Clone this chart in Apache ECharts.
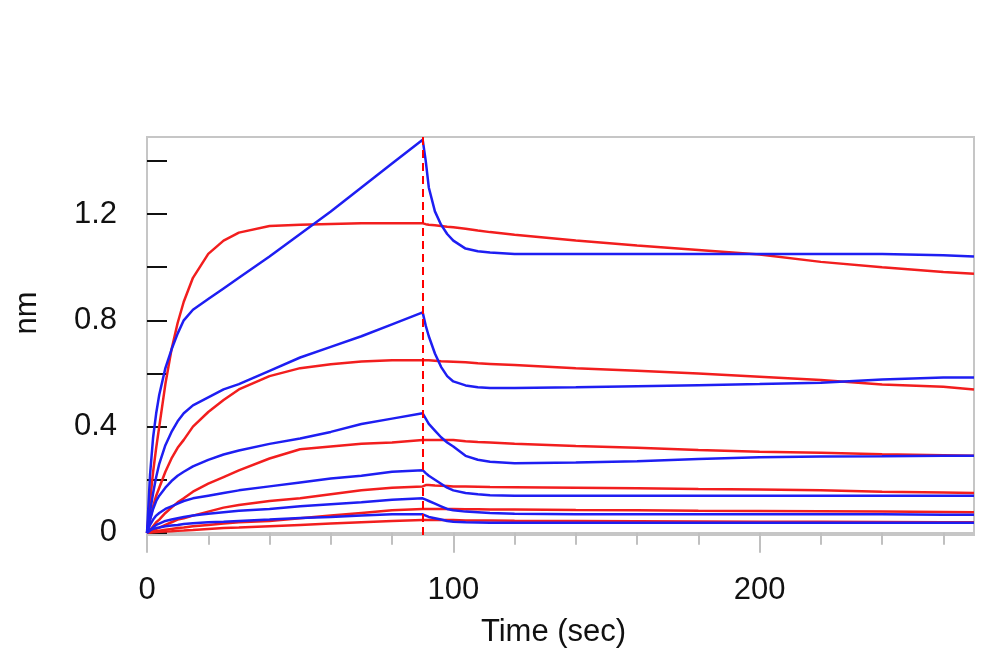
<!DOCTYPE html>
<html>
<head>
<meta charset="utf-8">
<script src="https://cdn.jsdelivr.net/npm/echarts@6/dist/echarts.min.js"></script>
<style>
  html, body { margin: 0; padding: 0; background: #fff; }
  #chart { width: 1000px; height: 670px; }
</style>
</head>
<body>
<div id="chart"></div>
<script>
// time points (sec), association 0-90 then dissociation 90-270
const time = [0, 1, 2, 3, 4, 6, 8, 10, 12, 15, 20, 25, 30, 40, 50, 60, 70, 80, 90,
  91, 92, 94, 96, 98, 100, 104, 108, 112, 120, 140, 160, 180, 200, 220, 240, 260, 270]
const switchTime = 90

// measured curves (blue)
const blue1 = [0, 0.22, 0.36, 0.45, 0.52, 0.62, 0.69, 0.75, 0.80, 0.84, 0.88, 0.92, 0.96, 1.04, 1.125, 1.21, 1.30, 1.39, 1.48,
  1.40, 1.30, 1.21, 1.16, 1.125, 1.10, 1.07, 1.06, 1.055, 1.05, 1.05, 1.05, 1.05, 1.05, 1.05, 1.05, 1.045, 1.04]
const blue2 = [0, 0.08, 0.15, 0.21, 0.26, 0.33, 0.38, 0.42, 0.45, 0.48, 0.51, 0.54, 0.56, 0.61, 0.66, 0.70, 0.74, 0.785, 0.83,
  0.78, 0.74, 0.675, 0.625, 0.59, 0.57, 0.555, 0.548, 0.545, 0.545, 0.548, 0.552, 0.556, 0.56, 0.565, 0.577, 0.585, 0.585]
const blue3 = [0, 0.05, 0.09, 0.12, 0.14, 0.17, 0.195, 0.215, 0.23, 0.25, 0.275, 0.295, 0.31, 0.335, 0.355, 0.38, 0.41, 0.43, 0.45,
  0.43, 0.41, 0.385, 0.36, 0.34, 0.325, 0.29, 0.275, 0.268, 0.262, 0.265, 0.27, 0.278, 0.285, 0.287, 0.288, 0.29, 0.29]
const blue4 = [0, 0.03, 0.05, 0.065, 0.075, 0.09, 0.1, 0.11, 0.12, 0.13, 0.14, 0.15, 0.16, 0.175, 0.19, 0.205, 0.215, 0.23, 0.236,
  0.225, 0.215, 0.2, 0.185, 0.17, 0.16, 0.15, 0.145, 0.142, 0.14, 0.14, 0.14, 0.14, 0.14, 0.14, 0.14, 0.14, 0.14]
const blue5 = [0, 0.01, 0.02, 0.03, 0.035, 0.045, 0.05, 0.055, 0.06, 0.065, 0.072, 0.078, 0.083, 0.09, 0.1, 0.108, 0.115, 0.125, 0.13,
  0.125, 0.12, 0.11, 0.1, 0.09, 0.085, 0.08, 0.078, 0.075, 0.072, 0.07, 0.07, 0.07, 0.07, 0.07, 0.07, 0.068, 0.068]
const blue6 = [0, 0.01, 0.015, 0.018, 0.02, 0.025, 0.028, 0.03, 0.033, 0.036, 0.04, 0.042, 0.045, 0.05, 0.056, 0.06, 0.065, 0.07, 0.07,
  0.065, 0.06, 0.055, 0.05, 0.045, 0.042, 0.04, 0.039, 0.038, 0.038, 0.038, 0.038, 0.038, 0.038, 0.038, 0.038, 0.038, 0.038]

// fitted curves (red)
const red1 = [0, 0.12, 0.23, 0.32, 0.40, 0.56, 0.69, 0.79, 0.87, 0.96, 1.05, 1.10, 1.13, 1.155, 1.16, 1.163, 1.165, 1.165, 1.165,
  1.162, 1.16, 1.158, 1.155, 1.152, 1.15, 1.145, 1.138, 1.132, 1.122, 1.10, 1.082, 1.065, 1.048, 1.02, 1.0, 0.982, 0.975]
const red2 = [0, 0.05, 0.10, 0.14, 0.17, 0.23, 0.28, 0.32, 0.35, 0.40, 0.455, 0.50, 0.54, 0.59, 0.62, 0.635, 0.645, 0.65, 0.65,
  0.65, 0.65, 0.648, 0.646, 0.645, 0.644, 0.642, 0.638, 0.636, 0.632, 0.62, 0.61, 0.6, 0.588, 0.575, 0.558, 0.55, 0.54]
const red3 = [0, 0.01, 0.025, 0.04, 0.05, 0.075, 0.095, 0.115, 0.13, 0.155, 0.185, 0.21, 0.235, 0.28, 0.315, 0.325, 0.335, 0.34, 0.35,
  0.35, 0.35, 0.35, 0.35, 0.35, 0.35, 0.345, 0.342, 0.34, 0.335, 0.327, 0.32, 0.312, 0.305, 0.302, 0.296, 0.292, 0.29]
const red4 = [0, 0.005, 0.01, 0.015, 0.02, 0.03, 0.04, 0.05, 0.055, 0.065, 0.08, 0.095, 0.105, 0.12, 0.13, 0.145, 0.16, 0.17, 0.175,
  0.18, 0.18, 0.178, 0.177, 0.176, 0.175, 0.175, 0.174, 0.173, 0.172, 0.17, 0.168, 0.165, 0.163, 0.16, 0.155, 0.152, 0.15]
const red5 = [0, 0.002, 0.004, 0.006, 0.008, 0.012, 0.015, 0.018, 0.02, 0.025, 0.03, 0.035, 0.04, 0.045, 0.055, 0.065, 0.075, 0.085, 0.09,
  0.09, 0.09, 0.09, 0.09, 0.09, 0.09, 0.089, 0.089, 0.088, 0.088, 0.086, 0.085, 0.083, 0.082, 0.081, 0.08, 0.079, 0.078]
const red6 = [0, 0.001, 0.002, 0.003, 0.004, 0.005, 0.006, 0.008, 0.009, 0.011, 0.015, 0.018, 0.02, 0.025, 0.03, 0.035, 0.04, 0.045, 0.048,
  0.048, 0.048, 0.048, 0.048, 0.048, 0.048, 0.047, 0.047, 0.047, 0.046, 0.045, 0.044, 0.043, 0.042, 0.042, 0.041, 0.04, 0.04]

const xLabels = [0, 100, 200]
const yLabels = [0, 0.4, 0.8, 1.2]
const yTicks = [0, 0.2, 0.4, 0.6, 0.8, 1.0, 1.2, 1.4]

const BLUE = '#1e1ef2'
const RED = '#f21e1e'
const FONT = 'Liberation Sans, Arial, sans-serif'

function toPoints(values) {
  return time.map((t, i) => [t, values[i]])
}

function lineSeries(values, color) {
  return {
    type: 'line',
    data: toPoints(values),
    showSymbol: false,
    smooth: false,
    lineStyle: { color: color, width: 2.5 },
    itemStyle: { color: color },
    z: 3
  }
}

const series = [
  lineSeries(red1, RED), lineSeries(red2, RED), lineSeries(red3, RED),
  lineSeries(red4, RED), lineSeries(red5, RED), lineSeries(red6, RED),
  lineSeries(blue1, BLUE), lineSeries(blue2, BLUE), lineSeries(blue3, BLUE),
  lineSeries(blue4, BLUE), lineSeries(blue5, BLUE), lineSeries(blue6, BLUE)
]
series[0].markLine = {
  silent: true,
  symbol: 'none',
  label: { show: false },
  lineStyle: { color: '#ff0000', type: [8, 5], width: 2 },
  data: [{ xAxis: switchTime }]
}

const chart = echarts.init(document.getElementById('chart'))
chart.setOption({
  animation: false,
  backgroundColor: '#fff',
  grid: {
    left: 147, right: 26, top: 137, bottom: 135,
    show: true, borderColor: '#c6c6c6', borderWidth: 2
  },
  xAxis: {
    type: 'value',
    min: 0, max: 270, interval: 100,
    name: 'Time (sec)',
    nameLocation: 'middle',
    nameGap: 82,
    nameTextStyle: { color: '#111', fontSize: 31, fontFamily: FONT, padding: [0, 14, 0, 0] },
    axisLine: { lineStyle: { color: '#c6c6c6', width: 2 } },
    axisTick: { length: 20, lineStyle: { color: '#c0c0c0', width: 2 }, customValues: xLabels },
    minorTick: { show: true, splitNumber: 5, length: 12, lineStyle: { color: '#c0c0c0', width: 2 } },
    splitLine: { show: false },
    axisLabel: { color: '#111', fontSize: 31, fontFamily: FONT, margin: 40, customValues: xLabels }
  },
  yAxis: {
    type: 'value',
    min: -0.008, max: 1.49,
    axisLine: { show: true, lineStyle: { color: '#c6c6c6', width: 2 } },
    axisTick: { show: true, inside: true, length: 20, lineStyle: { color: '#111', width: 2 }, customValues: yTicks },
    splitLine: { show: false },
    axisLabel: { color: '#111', fontSize: 31, fontFamily: FONT, margin: 30, customValues: yLabels }
  },
  graphic: [{
    type: 'text',
    x: 27, y: 313,
    rotation: Math.PI / 2,
    style: {
      text: 'nm', fill: '#111', fontSize: 31, fontFamily: FONT,
      textAlign: 'center', textVerticalAlign: 'middle'
    }
  }],
  series: series
})
</script>
</body>
</html>
